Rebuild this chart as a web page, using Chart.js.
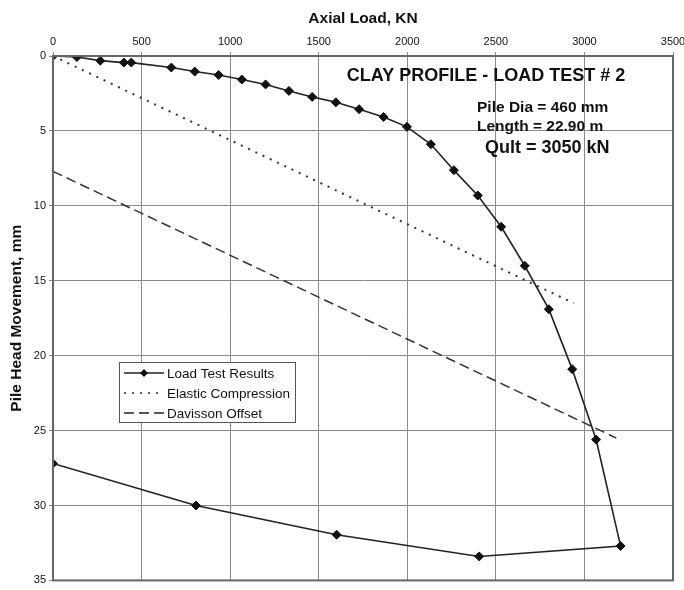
<!DOCTYPE html>
<html>
<head>
<meta charset="utf-8">
<script src="https://cdn.jsdelivr.net/npm/chart.js@4/dist/chart.umd.min.js"></script>
<style>
html,body{margin:0;padding:0;background:#fff;}
#c{display:block;}
</style>
</head>
<body>
<canvas id="c" width="684" height="590"></canvas>
<script>
// ---- data ----
const loadTestLoad = [0,135,267,400,442,668,800,935,1066,1200,1332,1463,1597,1728,1866,1998,2133,2263,2398,2530,2663,2799,2931,3066,3204,2406,1601,807,0];
const loadTestMove = [0,0.07,0.31,0.44,0.44,0.77,1.04,1.27,1.57,1.9,2.33,2.73,3.09,3.55,4.07,4.73,5.89,7.62,9.31,11.4,14.0,16.9,20.9,25.6,32.7,33.4,31.95,30.0,27.2];
const elasticLoad = [0,2940];
const elasticMove = [0,16.5];
const davissonLoad = [0,3180];
const davissonMove = [7.7,25.5];
const seriesNames = ['Load Test Results','Elastic Compression','Davisson Offset'];
const xTicks = [0,500,1000,1500,2000,2500,3000,3500];
const yTicks = [0,5,10,15,20,25,30,35];
const annotationLines = ['CLAY PROFILE - LOAD TEST # 2','Pile Dia = 460 mm','Length = 22.90 m','Qult = 3050 kN'];

const FONT = "'Liberation Sans', Arial, sans-serif";
const pts = (xs, ys) => xs.map((x,i)=>({x:x,y:ys[i]}));

const annotPlugin = {
  id:'annot',
  afterDraw(chart){
    const ctx = chart.ctx;
    ctx.save();
    ctx.fillStyle = '#111';
    ctx.textBaseline = 'middle';
    ctx.textAlign = 'center';
    ctx.font = 'bold 18px ' + FONT;
    ctx.fillText(annotationLines[0], 486, 76);
    ctx.textAlign = 'left';
    ctx.font = 'bold 15.5px ' + FONT;
    ctx.fillText(annotationLines[1], 477, 108);
    ctx.fillText(annotationLines[2], 477, 127);
    ctx.font = 'bold 18px ' + FONT;
    ctx.fillText(annotationLines[3], 485, 148);

    // legend box
    const bx = 119.5, by = 362.5, bw = 176, bh = 60;
    ctx.fillStyle = '#fff';
    ctx.fillRect(bx, by, bw, bh);
    ctx.strokeStyle = '#555';
    ctx.lineWidth = 1;
    ctx.strokeRect(bx, by, bw, bh);
    const rows = [373, 393, 413];
    const ds = chart.data.datasets;
    ctx.font = '13.5px ' + FONT;
    for (let i=0;i<3;i++){
      const y = rows[i];
      ctx.beginPath();
      ctx.strokeStyle = '#222';
      ctx.lineWidth = 1.5;
      ctx.setLineDash(ds[i].borderDash || []);
      ctx.moveTo(124, y);
      ctx.lineTo(164, y);
      ctx.stroke();
      ctx.setLineDash([]);
      if (i===0){
        ctx.beginPath();
        ctx.fillStyle = '#111';
        ctx.moveTo(144, y-4); ctx.lineTo(148, y); ctx.lineTo(144, y+4); ctx.lineTo(140, y);
        ctx.closePath(); ctx.fill();
      }
      ctx.fillStyle = '#111';
      ctx.textAlign = 'left';
      ctx.fillText(seriesNames[i], 167, y+1);
    }
    ctx.restore();
  }
};

new Chart(document.getElementById('c'), {
  type:'scatter',
  data:{
    datasets:[
      {label:seriesNames[0], data:pts(loadTestLoad, loadTestMove), showLine:true, borderColor:'#222', borderWidth:1.6,
       backgroundColor:'#111', pointStyle:'rectRot', pointRadius:4.5, pointBorderWidth:1, pointBorderColor:'#111', order:0},
      {label:seriesNames[1], data:pts(elasticLoad, elasticMove), showLine:true, borderColor:'#333', borderWidth:2,
       borderDash:[2,6], pointRadius:0, order:1},
      {label:seriesNames[2], data:pts(davissonLoad, davissonMove), showLine:true, borderColor:'#333', borderWidth:1.5,
       borderDash:[10,5], pointRadius:0, order:2}
    ]
  },
  options:{
    responsive:false,
    animation:false,
    devicePixelRatio:1,
    layout:{padding:{left:0,right:11,top:0,bottom:9}},
    plugins:{legend:{display:false}, tooltip:{enabled:false}},
    scales:{
      x:{
        type:'linear', position:'top', min:0, max:3500,
        afterBuildTicks(s){ s.ticks = xTicks.map(v=>({value:v})); },
        afterFit(s){ s.height = 56; s.paddingLeft = 0; s.paddingRight = 0; },
        grid:{color:'#8a8a8a', lineWidth:1, tickLength:4, drawTicks:true},
        border:{color:'#666', width:2},
        ticks:{color:'#111', font:{family:FONT, size:11}, padding:3, maxRotation:0, callback:(v)=>String(v)},
        title:{display:true, text:'Axial Load, KN', color:'#111', font:{family:FONT, size:15.5, weight:'bold'}, padding:{top:9,bottom:4}}
      },
      y:{
        type:'linear', reverse:true, min:0, max:35,
        afterBuildTicks(s){ s.ticks = yTicks.map(v=>({value:v})); },
        afterFit(s){ s.width = 53; },
        grid:{color:'#8a8a8a', lineWidth:1, tickLength:4, drawTicks:true},
        border:{color:'#666', width:2},
        ticks:{color:'#111', font:{family:FONT, size:11}, padding:3, callback:(v)=>String(v)},
        title:{display:true, text:'Pile Head Movement, mm', color:'#111', font:{family:FONT, size:15.5, weight:'bold'}, padding:{top:7,bottom:4}}
      }
    }
  },
  plugins:[annotPlugin, {
    id:'frame',
    afterDatasetsDraw(chart){
      const a = chart.chartArea, ctx = chart.ctx;
      ctx.save();
      ctx.strokeStyle = '#666'; ctx.lineWidth = 2;
      ctx.strokeRect(a.left, a.top, a.right-a.left, a.bottom-a.top);
      ctx.restore();
    }
  }]
});
</script>
</body>
</html>
